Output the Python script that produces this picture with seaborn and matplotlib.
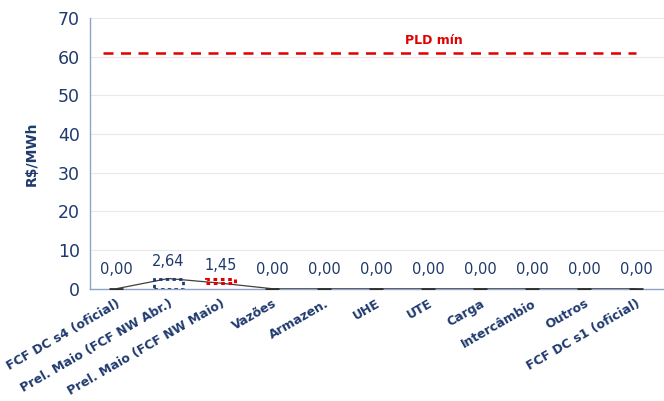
import numpy as np
import pandas as pd
import seaborn as sns
import matplotlib.pyplot as plt

# Categorias e valores (R$/MWh)
CATEGORIES = ['FCF DC s4 (oficial)', 'Prel. Maio (FCF NW Abr.)', 'Prel. Maio (FCF NW Maio)',
              'Vazões', 'Armazen.', 'UHE', 'UTE', 'Carga', 'Intercâmbio', 'Outros',
              'FCF DC s1 (oficial)']
LABELS = ['0,00', '2,64', '1,45', '0,00', '0,00', '0,00', '0,00', '0,00', '0,00', '0,00', '0,00']
TOTALS = [0.0, 2.64, 1.45, 0.0, 0.0, 0.0, 0.0, 0.0, 0.0, 0.0, 0.0]
PLD_MIN = 61.0

NAVY = '#1F3A6E'
SPINE = '#8FA3C4'

sns.set_style('white')
plt.rcParams['font.family'] = ['DejaVu Sans']

fig, ax = plt.subplots(figsize=(6.64, 4.01), dpi=100)
fig.subplots_adjust(left=0.136, right=1.005, top=0.955, bottom=0.28)

df = pd.DataFrame({'cat': CATEGORIES, 'val': TOTALS})
x = np.arange(len(CATEGORIES))

# linha ligando os totais
sns.lineplot(x=x, y=TOTALS, ax=ax, color='#404040', lw=0.9, zorder=2)

# caixas pontilhadas (degraus)
sns.barplot(data=df, x='cat', y='val', ax=ax, width=0.55, fill=False,
            color='none', linewidth=0, zorder=3)
for i, p in enumerate(ax.patches):
    if i == 1:
        p.set_edgecolor(NAVY); p.set_linestyle((0, (1.2, 1.2))); p.set_linewidth(2)
    elif i == 2:
        p.set_y(TOTALS[2]); p.set_height(TOTALS[1] - TOTALS[2])
        p.set_edgecolor('#E00000'); p.set_linestyle((0, (1.2, 1.2))); p.set_linewidth(2.2)
    else:
        p.set_visible(False)

# traços dos valores nulos
zeros = [i for i in x if i not in (1, 2)]
sns.scatterplot(x=zeros, y=[0] * len(zeros), ax=ax, marker='_', s=90,
                color='#303030', linewidth=2, zorder=4)

# rótulos de valor
offs = {1: 2.64 + 2.5, 2: 1.45 + 2.6}
for i, lab in enumerate(LABELS):
    ax.text(i, offs.get(i, 3.0), lab, ha='center', va='bottom', color=NAVY, fontsize=10.5)

# PLD mínimo
ax.plot([-0.25, 10.0], [PLD_MIN, PLD_MIN], color='#E00000', lw=1.8, ls=(0, (4, 3)), zorder=2)
ax.text(6.1, PLD_MIN + 1.5, 'PLD mín', color='#E00000', fontweight='bold', fontsize=9,
        ha='center', va='bottom')

ax.set_ylim(0, 70)
ax.set_xlim(-0.45, 10.6)
ax.set_yticks(range(0, 71, 10))
ax.yaxis.grid(True, color='#E9E9E9', lw=0.8)
ax.set_axisbelow(True)

ax.set_xticks(x)
ax.set_xticklabels(CATEGORIES, rotation=30, ha='right', rotation_mode='anchor',
                   fontweight='bold', fontsize=9, color=NAVY)
ax.set_xticks(np.arange(-0.5, 11, 1), minor=True)
ax.tick_params(axis='x', which='major', length=0, pad=6)
ax.tick_params(axis='x', which='minor', length=4, color=SPINE, width=1)
ax.tick_params(axis='y', length=4, color=SPINE, labelsize=12.5, labelcolor=NAVY, direction='out')
ax.set_xlabel('')
ax.set_ylabel('R$/MWh', color=NAVY, fontweight='bold', fontsize=10, labelpad=14)

for s in ('top', 'right'):
    ax.spines[s].set_visible(False)
for s in ('left', 'bottom'):
    ax.spines[s].set_color(SPINE)
    ax.spines[s].set_linewidth(1)

fig.savefig('out.png', dpi=100)
